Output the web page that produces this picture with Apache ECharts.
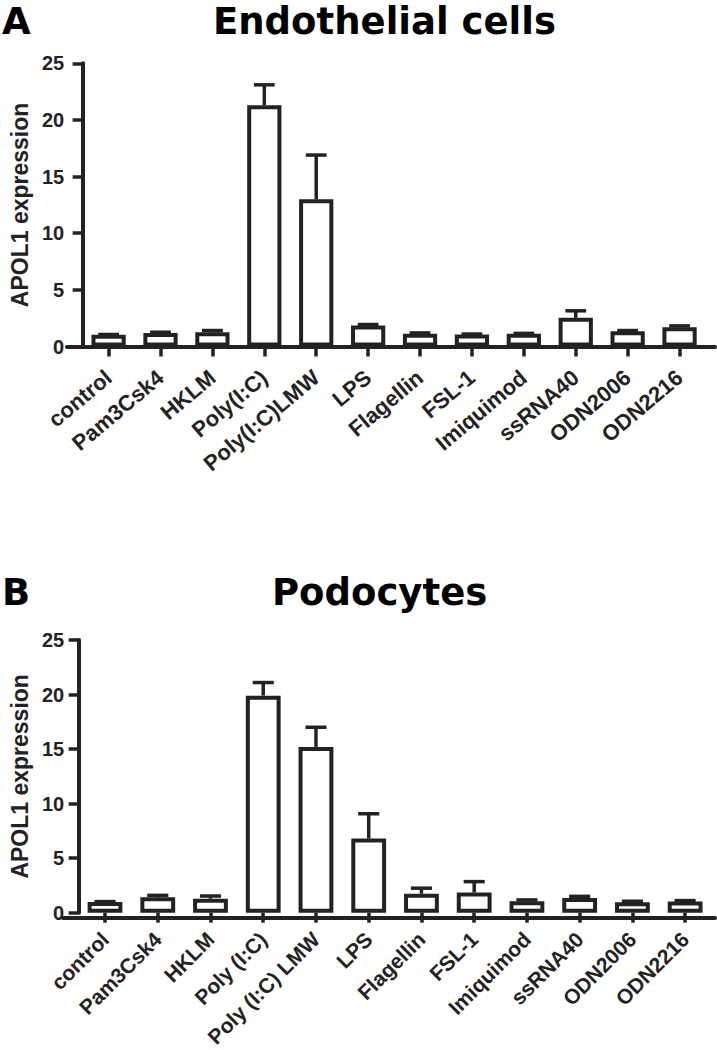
<!DOCTYPE html>
<html>
<head>
<meta charset="utf-8">
<script src="https://cdn.jsdelivr.net/npm/echarts@6/dist/echarts.min.js"></script>
<style>
html,body{margin:0;padding:0;background:#fff;}
#chart{width:717px;height:1050px;}
</style>
</head>
<body>
<div id="chart"></div>
<script>
// ---- Data ----
var categoriesA = ['control','Pam3Csk4','HKLM','Poly(I:C)','Poly(I:C)LMW','LPS','Flagellin','FSL-1','Imiquimod','ssRNA40','ODN2006','ODN2216'];
var meanA  = [1.03, 1.2, 1.26, 21.3, 13.0, 1.85, 1.12, 1.06, 1.12, 2.53, 1.35, 1.7];
var upperA = [1.06, 1.26, 1.41, 23.1, 16.9, 1.94, 1.2, 1.1, 1.16, 3.15, 1.41, 1.82];

var categoriesB = ['control','Pam3Csk4','HKLM','Poly (I:C)','Poly (I:C) LMW','LPS','Flagellin','FSL-1','Imiquimod','ssRNA40','ODN2006','ODN2216'];
var meanB  = [0.99, 1.41, 1.29, 19.9, 15.2, 6.8, 1.74, 1.86, 1.05, 1.35, 0.96, 1.02];
var upperB = [1.02, 1.59, 1.53, 21.1, 17.0, 9.07, 2.25, 2.85, 1.17, 1.5, 1.05, 1.11];

var yTicks = [0, 5, 10, 15, 20, 25];
var titleA = 'Endothelial cells', titleB = 'Podocytes';
var yName = 'APOL1 expression';

// ---- Style ----
var INK = '#222';
var LABEL_FONT = "'Liberation Sans', Arial, sans-serif";
var TITLE_FONT = "'DejaVu Sans', sans-serif";

function errData(mean, upper) {
  return mean.map(function (m, i) { return [i, m, upper[i]]; });
}
function errRender(params, api) {
  var x = api.value(0);
  var p0 = api.coord([x, api.value(1)]);
  var p1 = api.coord([x, api.value(2)]);
  var cw = api.size([1, 0])[0] * 0.4;
  var st = { stroke: INK, lineWidth: 3.5 };
  return { type: 'group', children: [
    { type: 'line', shape: { x1: p0[0], y1: p0[1], x2: p1[0], y2: p1[1] }, style: st },
    { type: 'line', shape: { x1: p1[0] - cw / 2, y1: p1[1], x2: p1[0] + cw / 2, y2: p1[1] }, style: st }
  ]};
}
function catAxis(grid, cats, rotate, margin, size) {
  return {
    type: 'category', gridIndex: grid, data: cats,
    axisLine: { show: false },
    axisTick: { show: true, alignWithLabel: true, length: 10, lineStyle: { color: INK, width: 3.5 } },
    axisLabel: { rotate: rotate, margin: margin, interval: 0, color: INK, fontFamily: LABEL_FONT, fontWeight: 'bold', fontSize: size }
  };
}
function valAxis(grid, margin, nameGap) {
  return {
    type: 'value', gridIndex: grid, min: 0, max: 25, interval: 5,
    name: yName, nameLocation: 'middle', nameRotate: 90, nameGap: nameGap,
    nameTextStyle: { color: INK, fontFamily: LABEL_FONT, fontWeight: 'bold', fontSize: 23 },
    axisLine: { show: true, lineStyle: { color: INK, width: 4 } },
    axisTick: { show: true, length: 10, lineStyle: { color: INK, width: 3.5 } },
    splitLine: { show: false },
    axisLabel: { margin: margin, color: INK, fontFamily: LABEL_FONT, fontWeight: 'bold', fontSize: 20,
      formatter: function (v) { return yTicks.indexOf(v) >= 0 ? String(v) : ''; } }
  };
}
function baseLineX(grid) {
  return { type: 'value', gridIndex: grid, min: 0, max: 1, show: true,
    axisLine: { show: true, lineStyle: { color: INK, width: 4 } },
    axisTick: { show: false }, axisLabel: { show: false }, splitLine: { show: false } };
}
function hiddenY(grid) {
  return { type: 'value', gridIndex: grid, min: 0, max: 1, show: false };
}

var option = {
  backgroundColor: '#fff',
  animation: false,
  title: [
    { text: 'A', left: 2, top: 3, padding: 0, textStyle: { fontFamily: TITLE_FONT, fontWeight: 'bold', fontSize: 37, color: '#000' } },
    { text: titleA, left: 213, top: 3, padding: 0, textStyle: { fontFamily: TITLE_FONT, fontWeight: 'bold', fontSize: 37, color: '#000' } },
    { text: 'B', left: 2, top: 574, padding: 0, textStyle: { fontFamily: TITLE_FONT, fontWeight: 'bold', fontSize: 37, color: '#000' } },
    { text: titleB, left: 272, top: 574, padding: 0, textStyle: { fontFamily: TITLE_FONT, fontWeight: 'bold', fontSize: 37, color: '#000' } }
  ],
  grid: [
    { left: 76.5, width: 629, top: 63.3, height: 283.2 },
    { left: 71.5, width: 640, top: 640, height: 277.7 },
    { left: 67, right: 2, top: 63.3, height: 283.2 },
    { left: 63, right: 2, top: 640, height: 277.7 }
  ],
  xAxis: [
    catAxis(0, categoriesA, 40, 28, 22),
    catAxis(1, categoriesB, 45, 23, 21),
    baseLineX(2),
    baseLineX(3)
  ],
  yAxis: [
    valAxis(0, 18.5, 50),
    valAxis(1, 14.5, 46),
    hiddenY(2),
    hiddenY(3)
  ],
  series: [
    { type: 'bar', xAxisIndex: 0, yAxisIndex: 0, data: meanA, barWidth: '66%',
      itemStyle: { color: '#fff', borderColor: INK, borderWidth: 4 }, z: 3 },
    { type: 'custom', xAxisIndex: 0, yAxisIndex: 0, data: errData(meanA, upperA), renderItem: errRender, z: 4 },
    { type: 'bar', xAxisIndex: 1, yAxisIndex: 1, data: meanB, barWidth: '66%',
      itemStyle: { color: '#fff', borderColor: INK, borderWidth: 4 }, z: 3 },
    { type: 'custom', xAxisIndex: 1, yAxisIndex: 1, data: errData(meanB, upperB), renderItem: errRender, z: 4 }
  ]
};

var chart = echarts.init(document.getElementById('chart'), null, { renderer: 'svg' });
chart.setOption(option);
</script>
</body>
</html>
